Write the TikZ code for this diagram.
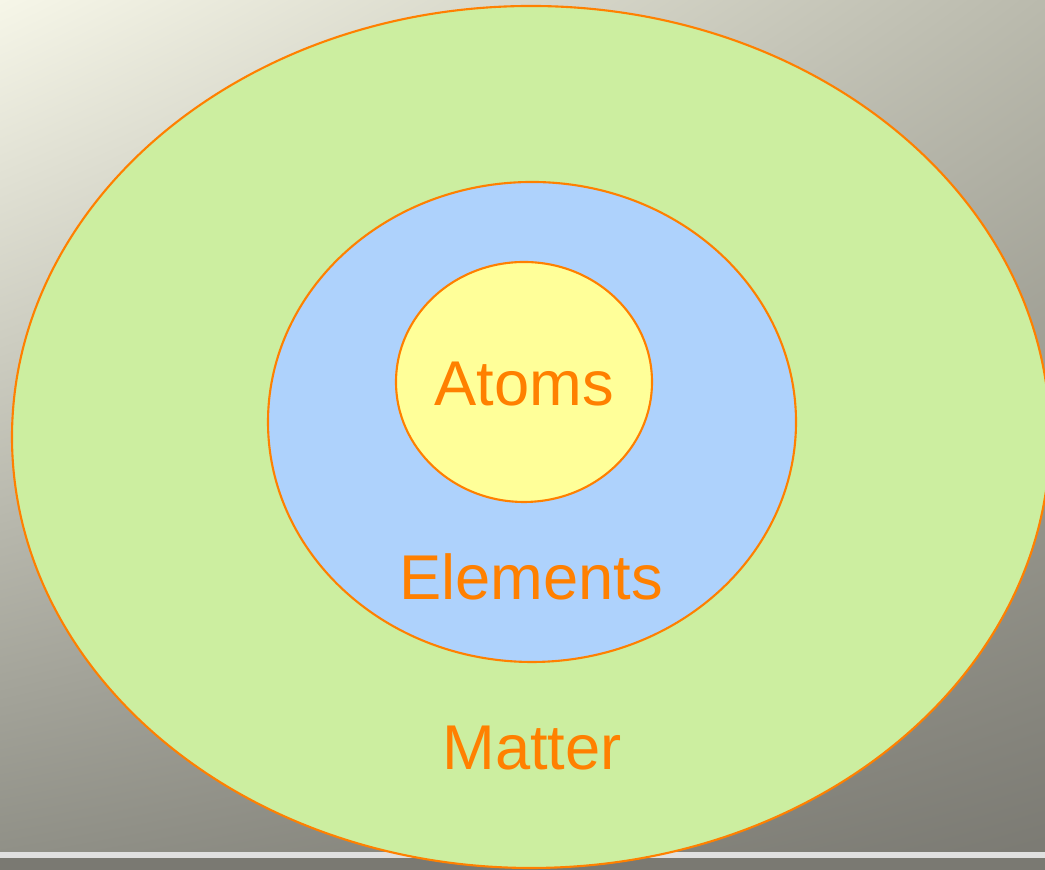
\documentclass[tikz,border=0pt]{standalone}
\usepackage{fontspec}
\setmainfont{Liberation Sans}
\usetikzlibrary{shapes.geometric, shadings}
\definecolor{bgtl}{RGB}{246,246,232}
\definecolor{bgtr}{RGB}{186,186,173}
\definecolor{bgbl}{RGB}{142,142,133}
\definecolor{bgbr}{RGB}{122,121,114}
\definecolor{edgeorange}{RGB}{255,128,0}
\definecolor{matterfill}{RGB}{204,238,160}
\definecolor{elemfill}{RGB}{174,210,252}
\definecolor{atomfill}{RGB}{255,255,153}

\begin{document}
\begin{tikzpicture}[
    ring/.style={ellipse, draw=edgeorange, line width=0.6pt, inner sep=0pt},
    lbl/.style={anchor=base, text=edgeorange, font=\fontsize{18}{20}\selectfont}
]
    % background
    \clip (0,0) rectangle (10.45,8.7);
    \shade[upper left=bgtl, upper right=bgtr, lower left=bgbl, lower right=bgbr] (0,0) rectangle (10.45,8.7);
    \fill[black!12] (0,0.12) rectangle (10.45,0.18);
    \fill[bgbr] (0,0) rectangle (10.45,0.12);

    \node[ring, fill=matterfill, minimum width=10.38cm, minimum height=8.62cm] (matter) at (5.31, 4.33) {};
    \node[ring, fill=elemfill, minimum width=5.28cm, minimum height=4.80cm] (elem) at (5.32, 4.48) {};
    \node[ring, fill=atomfill, minimum width=2.56cm, minimum height=2.40cm] (atom) at (5.24, 4.88) {};

    \node[lbl] (atomlbl) at (5.24, 4.64) {Atoms};
    \node[lbl] (elemlbl) at (5.31, 2.70) {Elements};
    \node[lbl] (matterlbl) at (5.32, 1.00) {Matter};
\end{tikzpicture}
\end{document}
